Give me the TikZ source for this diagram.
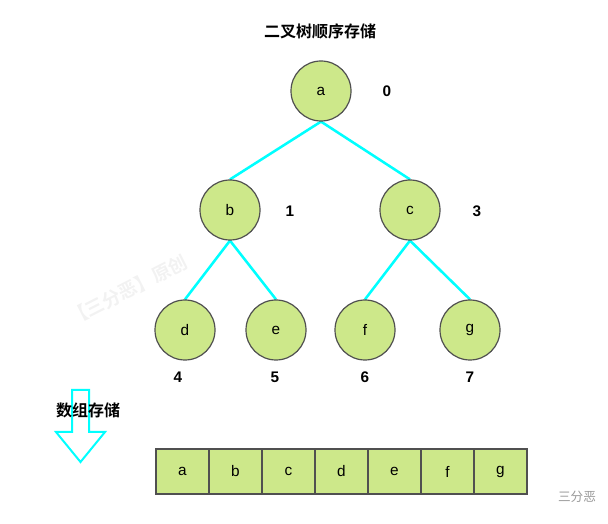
\documentclass[tikz,border=0pt]{standalone}
\usepackage{fontspec}
\setmainfont{Liberation Sans}
\newfontfamily\cjkfont{Noto Sans CJK SC}
\newfontfamily\cjkbold{Noto Sans CJK SC Bold}
\usetikzlibrary{arrows.meta,positioning,backgrounds}
\definecolor{nodegreen}{RGB}{205,232,138}
\definecolor{nodeborder}{RGB}{80,80,80}
\definecolor{edgecyan}{RGB}{0,255,255}
\tikzset{
  treenode/.style={circle, draw=nodeborder, fill=nodegreen, line width=0.9pt, minimum size=45pt, inner sep=0pt, font=\fontsize{11.5}{12}\selectfont},
  cellbox/.style={rectangle, draw=nodeborder, fill=nodegreen, line width=1.3pt, minimum width=39.75pt, minimum height=33.75pt, inner sep=0pt, font=\fontsize{11.5}{12}\selectfont},
  idx/.style={font=\fontsize{11.5}{12}\selectfont\bfseries},
  title/.style={font=\cjkbold\fontsize{12}{14}\selectfont},
  edge/.style={draw=edgecyan, line width=1.9pt},
  watermark/.style={text=black!5, font=\cjkbold\fontsize{14}{15}\selectfont}
}

\begin{document}
\begin{tikzpicture}[x=0.75pt, y=-0.75pt]
\useasboundingbox (0,0) rectangle (608,524);
\node[title] (title) at (320,31) {二叉树顺序存储};
% tree
\node[treenode] (a) at (321,91) {a};
\node[treenode] (b) at (230,210) {b};
\node[treenode] (c) at (410,210) {c};
\node[treenode] (d) at (185,330) {d};
\node[treenode] (e) at (276,330) {e};
\node[treenode] (f) at (365,330) {f};
\node[treenode] (g) at (470,330) {g};
\node[idx] (ia) at (387,91) {0};
\node[idx] (ib) at (290,211) {1};
\node[idx] (ic) at (477,211) {3};
\node[idx] (id) at (178,377) {4};
\node[idx] (ie) at (275,377) {5};
\node[idx] (if) at (365,377) {6};
\node[idx] (ig) at (470,377) {7};
\begin{scope}[on background layer]
\draw[edge] (a.south) -- (b.north);
\draw[edge] (a.south) -- (c.north);
\draw[edge] (b.south) -- (d.north);
\draw[edge] (b.south) -- (e.north);
\draw[edge] (c.south) -- (f.north);
\draw[edge] (c.south) -- (g.north);
% watermark
\node[watermark, rotate=27] (wm) at (128,290) {【三分恶】原创};
\end{scope}
% array storage
\draw[draw=edgecyan, line width=1.5pt, line join=miter]
  (72,390) -- (89,390) -- (89,432) -- (105,432) -- (80.5,462) -- (56,432) -- (72,432) -- cycle;
\node[title] (arrtitle) at (88,410) {数组存储};
\foreach \ch [count=\i] in {a,b,c,d,e,f,g}
  \node[cellbox] (cell\i) at ({156+26.5+53*(\i-1)},471.5) {\ch};
\node[text=black!40, font=\cjkfont\fontsize{9.5}{10}\selectfont] (logo) at (577,497) {三分恶};
\end{tikzpicture}
\end{document}
